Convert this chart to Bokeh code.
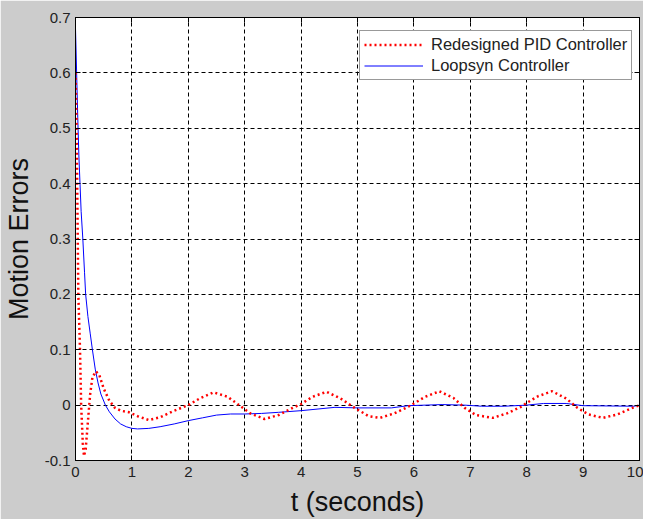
from bokeh.plotting import figure
from bokeh.models import (LinearAxis, Legend, LegendItem, FixedTicker, ColumnDataSource,
                          CustomJSTickFormatter)
from bokeh.embed import file_html
from bokeh.resources import INLINE

# ---- data ----
pid_t = [0.0, 0.02, 0.03, 0.04, 0.05, 0.08, 0.10, 0.13, 0.15, 0.18, 0.22, 0.26, 0.30, 0.36,
         0.42, 0.50, 0.60, 0.70, 0.80, 0.95, 1.10, 1.30, 1.50, 1.75, 2.00, 2.20, 2.45, 2.70,
         2.90, 3.10, 3.35, 3.60, 3.85, 4.00, 4.20, 4.45, 4.70, 4.95, 5.20, 5.40, 5.65, 5.90,
         6.00, 6.20, 6.45, 6.70, 6.90, 7.10, 7.40, 7.65, 7.90, 8.00, 8.20, 8.45, 8.70, 8.90,
         9.10, 9.35, 9.60, 9.85, 10.0]
pid_e = [0.60, 0.50, 0.40, 0.30, 0.20, 0.10, 0.0, -0.07, -0.092, -0.08, -0.03, 0.02, 0.05, 0.061,
         0.055, 0.03, 0.008, -0.005, -0.010, -0.013, -0.020, -0.027, -0.022, -0.010, 0.0, 0.012, 0.023, 0.015,
         0.0, -0.015, -0.025, -0.018, -0.005, 0.002, 0.015, 0.024, 0.012, -0.005, -0.020, -0.023, -0.015, -0.003,
         0.003, 0.015, 0.025, 0.013, -0.005, -0.018, -0.023, -0.015, -0.003, 0.004, 0.016, 0.025, 0.012, -0.005,
         -0.017, -0.023, -0.017, -0.006, 0.0]

loop_t = [0.0, 0.02, 0.04, 0.06, 0.08, 0.10, 0.13, 0.16, 0.18, 0.22, 0.26, 0.30, 0.35, 0.40, 0.45,
          0.53, 0.60, 0.70, 0.80, 0.90, 1.00, 1.10, 1.30, 1.50, 1.75, 2.00, 2.25, 2.50, 2.75, 3.00,
          3.30, 3.60, 4.00, 4.30, 4.60, 5.00, 5.60, 5.90, 6.20, 6.50, 6.90, 7.20, 7.60, 8.00, 8.30,
          8.70, 9.00, 9.90, 10.0]
loop_e = [0.68, 0.60, 0.52, 0.45, 0.40, 0.35, 0.30, 0.24, 0.20, 0.16, 0.13, 0.10, 0.065, 0.04, 0.02,
          0.0, -0.012, -0.025, -0.034, -0.039, -0.042, -0.043, -0.042, -0.039, -0.034, -0.028, -0.023, -0.018, -0.016, -0.016,
          -0.015, -0.013, -0.010, -0.007, -0.004, -0.005, -0.005, -0.001, 0.0, 0.001, 0.0, -0.002, -0.002, 0.0, 0.003,
          0.003, -0.001, -0.002, 0.0]

x_ticks = [0, 1, 2, 3, 4, 5, 6, 7, 8, 9, 10]
y_ticks = [-0.1, 0, 0.1, 0.2, 0.3, 0.4, 0.5, 0.6, 0.7]
y_tick_labels = {-0.1: "-0.1", 0: "0", 0.1: "0.1", 0.2: "0.2", 0.3: "0.3", 0.4: "0.4",
                 0.5: "0.5", 0.6: "0.6", 0.7: "0.7"}

FONT = "Liberation Sans"

p = figure(frame_width=564, frame_height=443, output_backend="svg", toolbar_location=None,
           x_range=(0, 10), y_range=(-0.1, 0.7),
           min_border_left=75, min_border_top=17, min_border_right=4, min_border_bottom=52,
           background_fill_color="white", border_fill_color="#cccccc",
           outline_line_color="black", outline_line_width=1)

# grid
for g in (p.xgrid, p.ygrid):
    g.grid_line_color = "black"
    g.grid_line_dash = "4 3"
    g.grid_line_width = 1
p.xgrid.ticker = FixedTicker(ticks=x_ticks)
p.ygrid.ticker = FixedTicker(ticks=y_ticks)

# axes
p.xaxis.ticker = FixedTicker(ticks=x_ticks)
p.yaxis.ticker = FixedTicker(ticks=y_ticks)
p.yaxis.major_label_overrides = y_tick_labels
for ax in (p.xaxis[0], p.yaxis[0]):
    ax.major_tick_in = 5
    ax.major_tick_out = 0
    ax.minor_tick_in = 0
    ax.minor_tick_out = 0
    ax.axis_line_color = "black"
    ax.major_tick_line_color = "black"
    ax.major_label_text_font = FONT
    ax.major_label_text_font_size = "15px"
    ax.major_label_text_color = "#222222"
    ax.axis_label_text_font = FONT
    ax.axis_label_text_font_size = "27px"
    ax.axis_label_text_font_style = "normal"
    ax.axis_label_text_color = "#111111"
    ax.axis_label_text_line_height = 1.0
p.xaxis.axis_label = "t (seconds)"
p.yaxis.axis_label = "Motion Errors"
p.xaxis.major_label_standoff = 6
p.yaxis.major_label_standoff = 5
p.xaxis.axis_label_standoff = 7
p.yaxis.axis_label_standoff = 8

for loc, ticks in (("right", y_ticks), ("above", x_ticks)):
    ax = LinearAxis(ticker=FixedTicker(ticks=ticks), major_tick_in=5, major_tick_out=0,
                    minor_tick_in=0, minor_tick_out=0,
                    formatter=CustomJSTickFormatter(code="return ''"),
                    major_label_standoff=0, axis_line_color="black")
    p.add_layout(ax, loc)

src_pid = ColumnDataSource(dict(t=pid_t, e=pid_e))
src_loop = ColumnDataSource(dict(t=loop_t, e=loop_e))
r_loop = p.line("t", "e", source=src_loop, line_color="#0000ff", line_width=1)
r_pid = p.line("t", "e", source=src_pid, line_color="#ff0000", line_width=2.5, line_dash="2 3")

legend = Legend(items=[LegendItem(label="Redesigned PID Controller", renderers=[r_pid]),
                       LegendItem(label="Loopsyn Controller", renderers=[r_loop])],
                location=(284, 380), label_text_font=FONT, label_text_font_size="16.5px",
                label_text_color="#222222", border_line_color="#333333", border_line_width=1,
                background_fill_color="white", background_fill_alpha=1.0,
                padding=4, spacing=2, label_height=19, glyph_height=19, glyph_width=59,
                label_standoff=8, margin=0)
p.add_layout(legend)

open("out.html", "w").write(file_html(p, INLINE))
